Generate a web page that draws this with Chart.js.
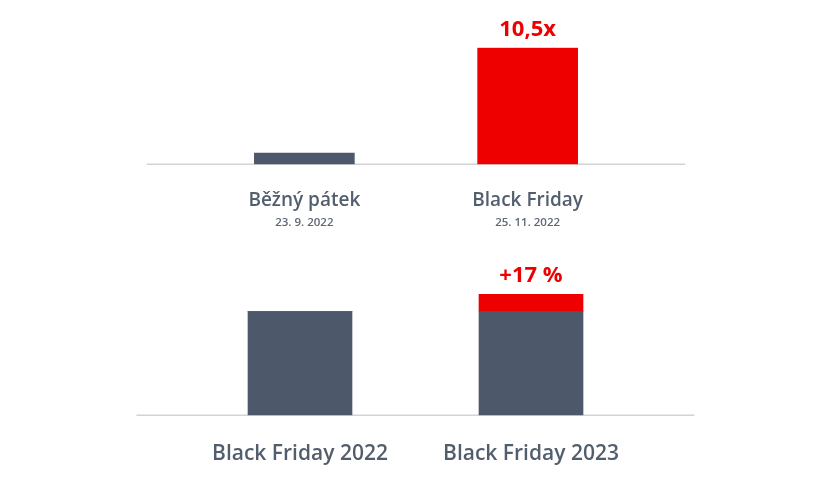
<!DOCTYPE html>
<html lang="cs">
<head>
<meta charset="utf-8">
<title>Black Friday</title>
<script src="https://cdn.jsdelivr.net/npm/chart.js@4/dist/chart.umd.min.js"></script>
<style>
  html, body { margin: 0; padding: 0; background: #ffffff; }
  body { width: 840px; height: 480px; position: relative; overflow: hidden; }
  .panel { position: absolute; left: 0; width: 840px; }
  #top-panel { top: 0; height: 240px; }
  #bottom-panel { top: 250px; height: 230px; }
</style>
</head>
<body>
<div class="panel" id="top-panel"><canvas id="top-chart"></canvas></div>
<div class="panel" id="bottom-panel"><canvas id="bottom-chart"></canvas></div>
<script>
// top chart: ordinary friday vs black friday (relative sales)
const dayLabels = ["Běžný pátek", "Black Friday"];
const dayDates = ["23. 9. 2022", "25. 11. 2022"];
const dayValues = [1, 10.5];
const dayBadges = ["", "10,5x"];

// bottom chart: year over year
const yearLabels = ["Black Friday 2022", "Black Friday 2023"];
const yearBase = [100, 100];
const yearGrowth = [0, 17];
const yearBadges = ["", "+17 %"];

const GREY = "#4d586a";
const RED = "#ee0000";
const TEXT = "#535e6d";

Chart.defaults.font.family = "'Open Sans', sans-serif";
Chart.defaults.color = TEXT;

// longer baseline than the plot area + red labels above the bars
const decorPlugin = {
  id: "decor",
  beforeDatasetsDraw(chart, args, opts) {
    const { ctx, chartArea } = chart;
    ctx.save();
    ctx.strokeStyle = "#d3d3d3";
    ctx.lineWidth = 1.5;
    ctx.beginPath();
    ctx.moveTo(chartArea.left - opts.extend, chartArea.bottom);
    ctx.lineTo(chartArea.right + opts.extend, chartArea.bottom);
    ctx.stroke();
    ctx.restore();
  },
  afterDatasetsDraw(chart, args, opts) {
    const { ctx } = chart;
    const last = chart.getDatasetMeta(chart.data.datasets.length - 1);
    ctx.save();
    ctx.fillStyle = RED;
    ctx.font = "bold 22px 'Open Sans', sans-serif";
    ctx.textAlign = "center";
    ctx.textBaseline = "alphabetic";
    opts.badges.forEach((text, i) => {
      if (!text) return;
      const bar = last.data[i];
      ctx.fillText(text, bar.x, bar.y - 12);
    });
    ctx.restore();
  },
};

function hiddenGrid() {
  return { display: false, drawTicks: false };
}

// fixed axis heights so the label rows land where they should
function fixedHeight(h) {
  return (scale) => {
    scale.height = h;
  };
}

new Chart(document.getElementById("top-chart"), {
  type: "bar",
  plugins: [decorPlugin],
  data: {
    labels: dayLabels,
    datasets: [
      {
        data: dayValues,
        backgroundColor: [GREY, RED],
        borderWidth: 0,
        barThickness: 100,
      },
    ],
  },
  options: {
    responsive: true,
    maintainAspectRatio: false,
    animation: false,
    layout: { padding: { left: 192.7, right: 200.7, top: 47.7, bottom: 5.7 } },
    plugins: {
      legend: { display: false },
      tooltip: { enabled: false },
      decor: { extend: 46, badges: dayBadges },
    },
    scales: {
      y: { display: false, min: 0, max: Math.max(...dayValues) },
      x: {
        weight: 0,
        grid: hiddenGrid(),
        border: { display: false },
        ticks: { padding: 24.5, color: TEXT, font: { size: 19, weight: 600 } },
        afterFit: fixedHeight(50),
      },
      x2: {
        type: "category",
        labels: dayDates,
        position: "bottom",
        offset: true,
        weight: 1,
        grid: hiddenGrid(),
        border: { display: false },
        ticks: { padding: 1.5, color: "#5d6775", font: { size: 11.5, weight: 600 } },
        afterFit: fixedHeight(20),
      },
    },
  },
});

new Chart(document.getElementById("bottom-chart"), {
  type: "bar",
  plugins: [decorPlugin],
  data: {
    labels: yearLabels,
    datasets: [
      { data: yearBase, backgroundColor: GREY, borderWidth: 0, barThickness: 104 },
      { data: yearGrowth, backgroundColor: RED, borderWidth: 0, barThickness: 104 },
    ],
  },
  options: {
    responsive: true,
    maintainAspectRatio: false,
    animation: false,
    layout: { padding: { left: 184.5, right: 193.5, top: 44, bottom: 4.7 } },
    plugins: {
      legend: { display: false },
      tooltip: { enabled: false },
      decor: { extend: 48, badges: yearBadges },
    },
    scales: {
      y: {
        display: false,
        stacked: true,
        min: 0,
        max: Math.max(...yearBase.map((v, i) => v + yearGrowth[i])),
      },
      x: {
        stacked: true,
        grid: hiddenGrid(),
        border: { display: false },
        ticks: { padding: 26, color: TEXT, font: { size: 21, weight: 600 } },
        afterFit: fixedHeight(60),
      },
    },
  },
});
</script>
</body>
</html>
